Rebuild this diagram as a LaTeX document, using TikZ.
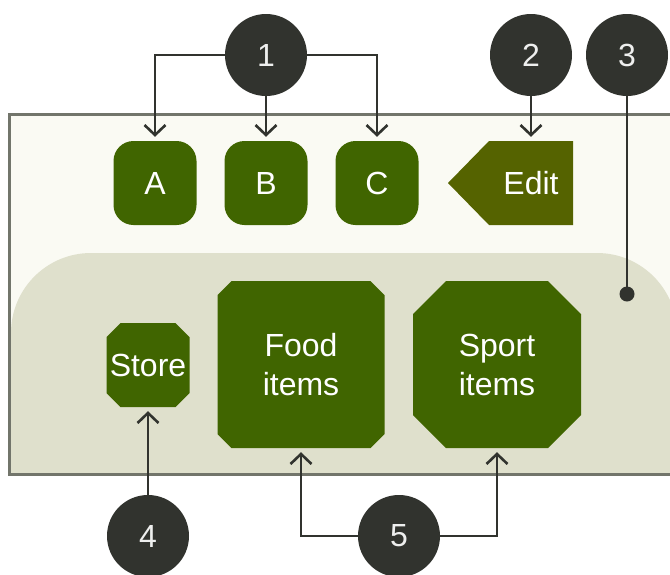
\documentclass[tikz,border=0pt]{standalone}
\usepackage{fontspec}
\setmainfont{Liberation Sans}
\usetikzlibrary{arrows.meta,calc}
\definecolor{leaf}{HTML}{406500}
\definecolor{oliveleaf}{HTML}{556300}
\definecolor{ink}{HTML}{31332E}
\definecolor{paper}{HTML}{FAFAF3}
\definecolor{band}{HTML}{DFE0CC}
\definecolor{rim}{HTML}{72756B}
\newcommand{\lblfont}{\fontsize{32}{39}\selectfont}
% \cutbox{name}{centre}{half width}{half height}{chamfer}{text}
\newcommand{\cutbox}[6]{%
  \coordinate (#1-c) at #2;
  \fill[leaf] ($(#1-c)+(-#3+#5,-#4)$) -- ($(#1-c)+(#3-#5,-#4)$) -- ($(#1-c)+(#3,-#4+#5)$)
    -- ($(#1-c)+(#3,#4-#5)$) -- ($(#1-c)+(#3-#5,#4)$) -- ($(#1-c)+(-#3+#5,#4)$)
    -- ($(#1-c)+(-#3,#4-#5)$) -- ($(#1-c)+(-#3,-#4+#5)$) -- cycle;
  \node[tile, minimum width=2*#3pt, minimum height=2*#4pt] (#1) at (#1-c) {#6};}
\begin{document}
\begin{tikzpicture}[x=1pt,y=-1pt,
  tab/.style={rounded corners=20pt, fill=leaf, minimum width=83pt, minimum height=84pt,
    inner sep=0pt, text=white, font=\lblfont},
  tile/.style={rectangle, inner sep=0pt, text=white, font=\lblfont, align=center},
  callout/.style={circle, fill=ink, minimum size=82pt, inner sep=0pt,
    text=white!92!ink, font=\lblfont},
  link/.style={draw=ink, line width=2.6pt, shorten >=4pt,
    -{Straight Barb[length=10pt,width=21pt]}},
  lead/.style={draw=ink, line width=2.6pt}]
\useasboundingbox (0,0) rectangle (670,574);
\clip (0,0) rectangle (670,574);

% panel and lower band
\fill[paper] (9.5,114.5) rectangle (700,474);
\begin{scope}
  \clip (9.5,114.5) rectangle (700,474);
  \fill[band, rounded corners=80pt] (11,253) rectangle (677,560);
\end{scope}
\draw[rim, line width=3pt] (9.5,114.5) rectangle (700,474);

% top row of tabs
\node[tab] (A) at (155,183) {A};
\node[tab] (B) at (266,183) {B};
\node[tab] (C) at (377,183) {C};

% edit tag pointing left
\coordinate (editc) at (531,183);
\fill[oliveleaf] ($(editc)+(42,-42)$) -- ($(editc)+(-42,-42)$) -- ($(editc)+(-83,0)$)
  -- ($(editc)+(-42,42)$) -- ($(editc)+(42,42)$) -- cycle;
\node[minimum width=84pt, minimum height=84pt, inner sep=0pt, text=white, font=\lblfont]
  (edit) at (editc) {Edit};

% lower band items
\cutbox{store}{(148,365)}{41.5}{42}{14}{Store}
\cutbox{food}{(301,364.5)}{83.5}{83.5}{14}{Food\\items}
\cutbox{sport}{(497,364.5)}{84}{83.5}{33}{Sport\\items}

% callouts
\node[callout] (c1) at (266,55) {1};
\node[callout] (c2) at (531,55) {2};
\node[callout] (c3) at (627,55) {3};
\node[callout] (c4) at (148,536) {4};
\node[callout] (c5) at (399,536) {5};
\node[circle, fill=ink, inner sep=0pt, minimum size=15pt] (pin) at (627,294) {};

% connectors
\draw[link] (c1.west) -| (A.north);
\draw[link] (c1.south) -- (B.north);
\draw[link] (c1.east) -| (C.north);
\draw[link] (c2.south) -- (edit.north);
\draw[lead] (c3.south) -- (pin.center);
\draw[link] (c4.north) -- (store.south);
\draw[link] (c5.west) -| (food.south);
\draw[link] (c5.east) -| (sport.south);
\end{tikzpicture}
\end{document}
